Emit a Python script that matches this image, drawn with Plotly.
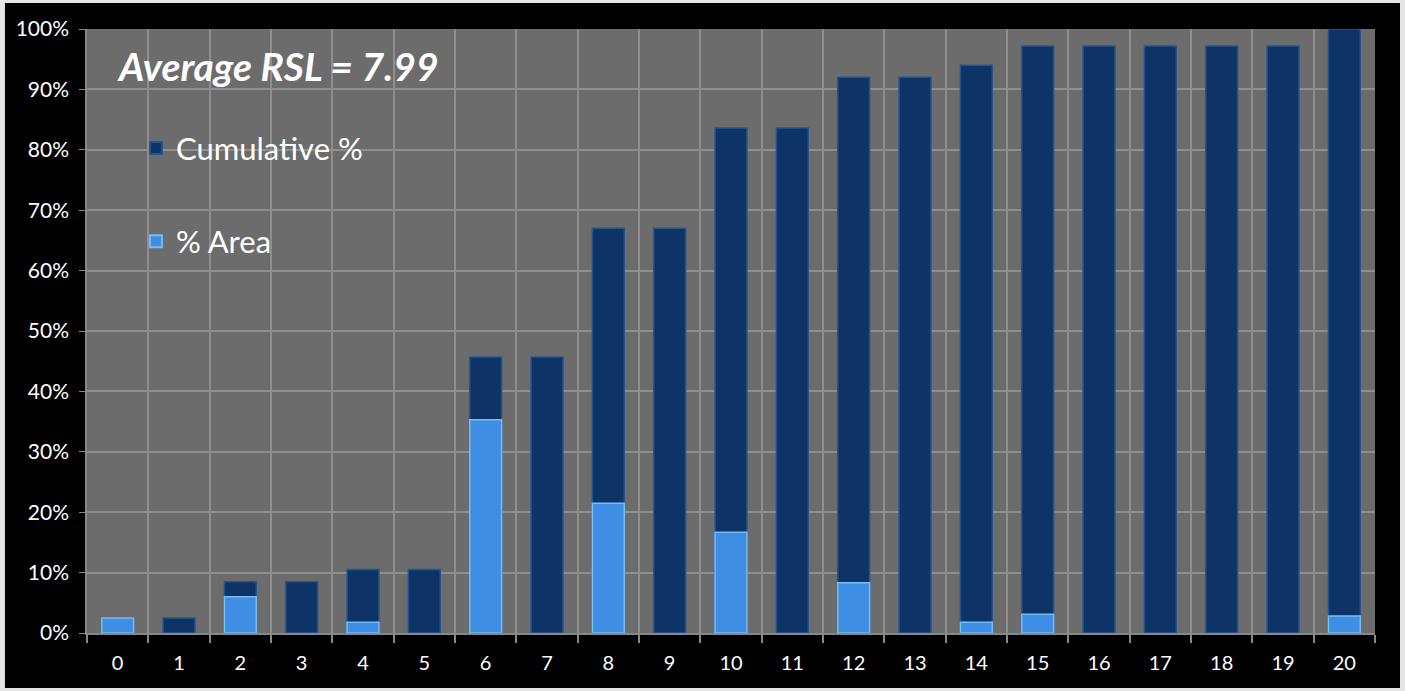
import plotly.graph_objects as go

categories = list(range(21))
cumulative_pct = [2.5, 2.5, 8.5, 8.5, 10.5, 10.5, 45.7, 45.7, 67.0, 67.0, 83.6, 83.6,
                  92.0, 92.0, 94.0, 97.2, 97.2, 97.2, 97.2, 97.2, 100.0]
area_pct = [2.5, None, 6.0, None, 1.8, None, 35.3, None, 21.5, None, 16.7, None,
            8.3, None, 1.8, 3.1, None, None, None, None, 2.8]
y_ticks = list(range(0, 101, 10))
y_labels = [f"{v}%" for v in y_ticks]

fig = go.Figure()
fig.add_trace(go.Bar(
    x=categories, y=cumulative_pct, name="Cumulative %", width=0.52,
    marker=dict(color="#0e3366", line=dict(color="#24558f", width=1.5)),
    legendgroup="a",
))
fig.add_trace(go.Bar(
    x=categories, y=area_pct, name="% Area", width=0.52,
    marker=dict(color="#3f8ee3", line=dict(color="#75bdf7", width=1.5)),
    legendgroup="b",
))

fig.add_annotation(
    text="<b><i>Average RSL = 7.99</i></b>", xref="paper", yref="paper",
    x=0.022, y=0.938, xanchor="left", yanchor="middle", showarrow=False,
    font=dict(family="Lato, Open Sans, sans-serif", size=39, color="white"),
)

# light outer frame around the black page (edges of the original picture)
frame = "#e6e6e6"
for x0, x1, y0, y1 in [(-0.1, -0.0637, -0.2, 1.2), (1.0194, 1.1, -0.2, 1.2),
                       (-0.1, 1.1, -0.2, -0.091), (-0.1, 1.1, 1.043, 1.2)]:
    fig.add_shape(type="rect", xref="paper", yref="paper", x0=x0, x1=x1, y0=y0, y1=y1,
                  fillcolor=frame, line=dict(width=0), layer="above")

fig.update_layout(
    width=1405, height=691,
    barmode="overlay",
    paper_bgcolor="black", plot_bgcolor="#6c6c6c",
    margin=dict(l=87, r=30, t=29, b=58),
    font=dict(family="Lato, Open Sans, sans-serif", color="white"),
    showlegend=True,
    legend=dict(x=0.038, y=0.847, xanchor="left", yanchor="top",
                bgcolor="rgba(0,0,0,0)", font=dict(size=31, color="white"),
                tracegroupgap=50, itemsizing="constant"),
    xaxis=dict(
        range=[-0.5, 20.5], tickmode="array", tickvals=categories,
        ticktext=[str(c) for c in categories], showgrid=False,
        ticks="outside", ticklen=1, tickcolor="rgba(0,0,0,0)",
        tickfont=dict(size=20, color="white"), showline=True, linecolor="#888888",
        linewidth=1.5, zeroline=False, ticklabelstandoff=10,
        minor=dict(tick0=-0.5, dtick=1, showgrid=True, gridcolor="#8e8e8e",
                   gridwidth=1.5, ticks="outside", ticklen=8, tickcolor="#888888",
                   tickwidth=1.5),
    ),
    yaxis=dict(
        range=[0, 100], tickmode="array", tickvals=y_ticks, ticktext=y_labels,
        showgrid=True, gridcolor="#8e8e8e", gridwidth=1.5,
        ticks="outside", ticklen=6, tickcolor="#888888",
        tickfont=dict(size=21, color="white"), showline=True, linecolor="#888888",
        linewidth=1.5, zeroline=False, ticklabelstandoff=6,
    ),
)

fig.write_html("out.html", post_script="document.body.style.margin='0';",
               config={"displayModeBar": False})
